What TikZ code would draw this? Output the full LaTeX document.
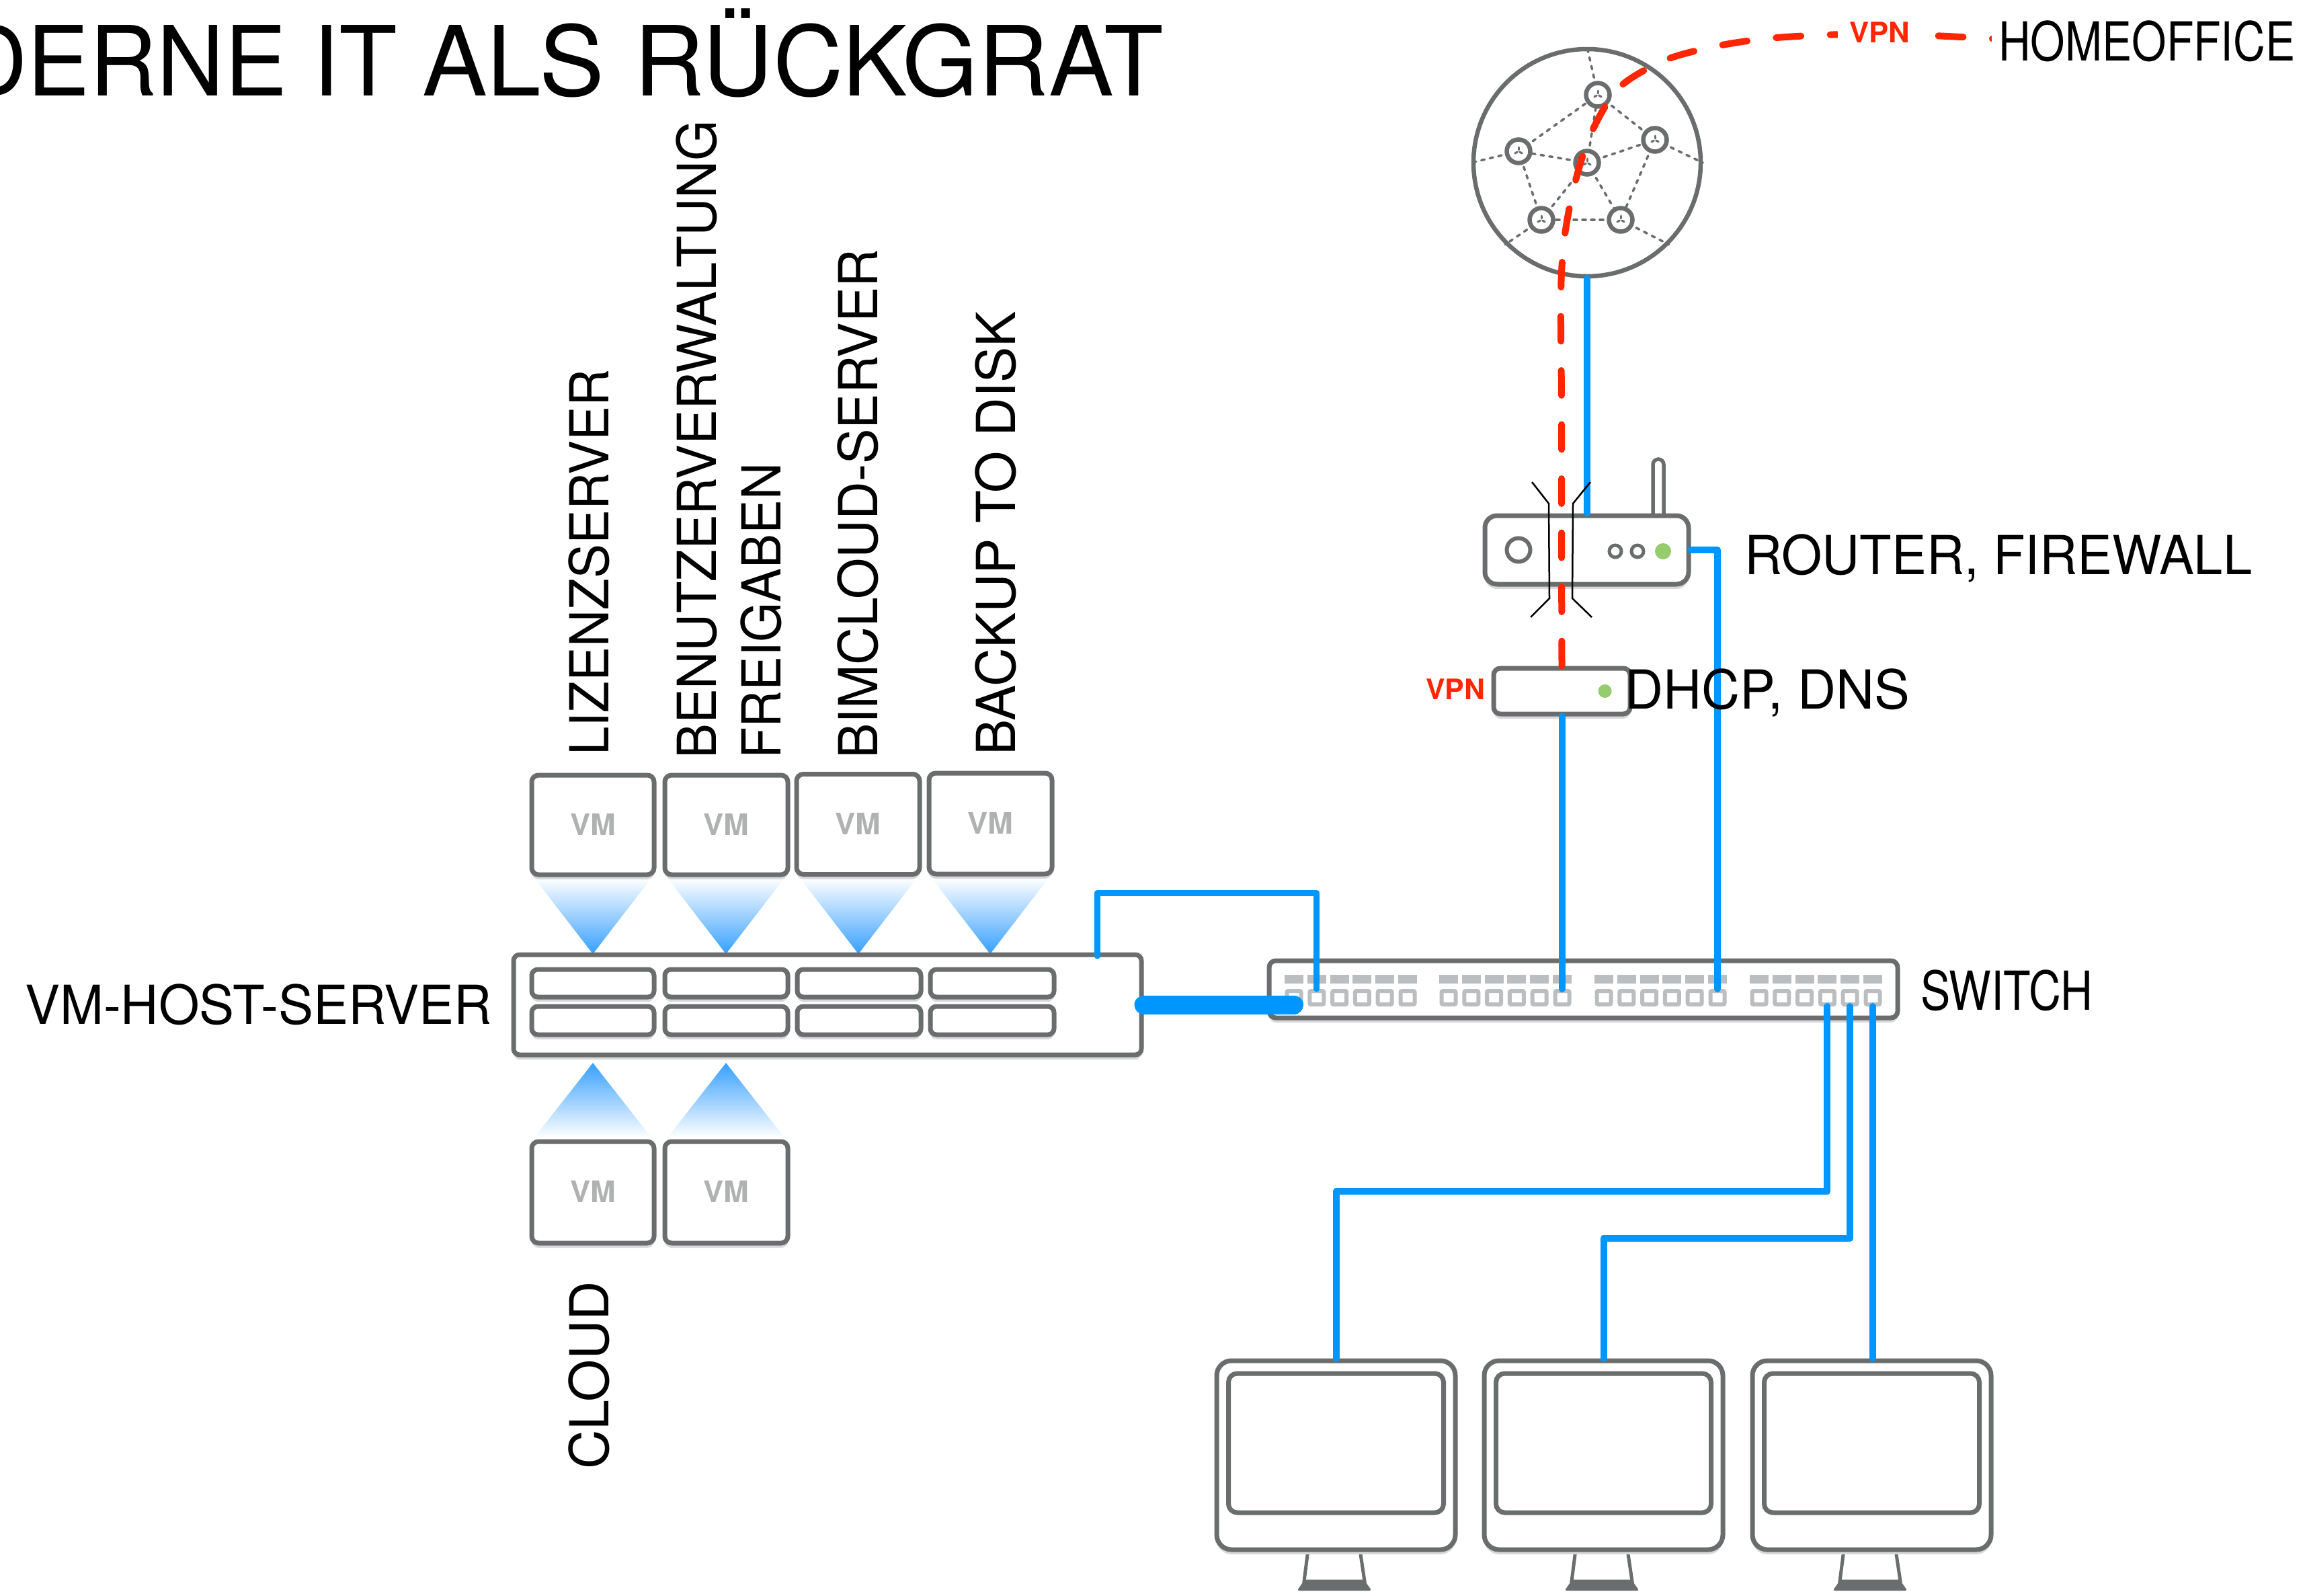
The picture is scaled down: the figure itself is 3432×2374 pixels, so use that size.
\documentclass[tikz,border=0pt]{standalone}
\usepackage{fontspec}
\usepackage{graphicx}
\setmainfont{TeX Gyre Heros}
\usetikzlibrary{shadows,calc}
\definecolor{dev}{HTML}{6A6D6D}
\definecolor{shad}{HTML}{D8D8D8}
\definecolor{wireblue}{HTML}{0096FF}
\definecolor{vpnred}{HTML}{FF2600}
\definecolor{led}{HTML}{96CB6E}
\definecolor{portgray}{HTML}{BBBEC0}
\definecolor{vmtext}{HTML}{B0B2B2}
\definecolor{apex}{HTML}{36A0FF}
\newcommand{\lbl}[3]{\resizebox{#2pt}{\height}{\fontsize{#1pt}{#1pt}\selectfont #3}}
\tikzset{
  devbox/.style={draw=dev,fill=white,line width=7pt,inner sep=0pt,rounded corners=#1,
    drop shadow={shadow xshift=0pt,shadow yshift=-7pt,opacity=1,fill=shad}},
  devbox/.default=10pt,
  plainbox/.style={draw=dev,fill=white,line width=7pt,inner sep=0pt,rounded corners=#1},
  plainbox/.default=10pt,
  wire/.style={draw=wireblue,line width=10pt,line cap=round,line join=round},
  thinwire/.style={draw=wireblue,line width=9pt,line cap=round,line join=round},
  thickwire/.style={draw=wireblue,line width=28pt,line cap=round},
  vpnline/.style={draw=vpnred,line width=10pt,line cap=round,dash pattern=on 37pt off 43.5pt},
  fw/.style={draw=black,line width=2.5pt},
  mesh/.style={draw=dev,line width=3.5pt,line cap=round,dash pattern=on 5pt off 8pt},
  speck/.style={draw=dev,line width=3pt,line cap=round},
  meshnode/.style={circle,draw=dev,fill=white,line width=6.5pt,minimum size=35pt,inner sep=0pt},
  lab/.style={inner sep=0pt,text=black,anchor=base west},
  vmlab/.style={inner sep=0pt,text=vmtext,font=\bfseries},
  redlab/.style={inner sep=0pt,text=vpnred,font=\bfseries},
  portnode/.style={rectangle,draw=portgray,fill=white,line width=6pt,minimum width=21pt,minimum height=20pt,inner sep=0pt,rounded corners=2pt}
}
\begin{document}
\begin{tikzpicture}[x=1pt,y=-1pt]
\useasboundingbox (0,0) rectangle (3432,2374);
\fill[white] (0,0) rectangle (3432,2374);

% title, word by word
\node[lab] (titlea) at (-60,142) {\lbl{144}{487}{DERNE}};
\node[lab] (titleb) at (465,142) {\lbl{144}{126}{IT}};
\node[lab] (titlec) at (628,142) {\lbl{144}{271}{ALS}};
\node[lab] (titled) at (943,142) {\lbl{144}{788}{RÜCKGRAT}};

% gradients above and below the host
\foreach \cx in {882,1080,1277,1473}
  \shade[top color=white,bottom color=apex] (\cx-87,1306) -- (\cx+87,1306) -- (\cx,1419) -- cycle;
\foreach \cx in {882,1080}
  \shade[top color=apex,bottom color=white] (\cx,1581) -- (\cx+87,1692) -- (\cx-87,1692) -- cycle;

% VMs
\node[devbox,minimum width=182pt,minimum height=148pt] (vma) at (882,1227) {};
\node[devbox,minimum width=183pt,minimum height=148pt] (vmb) at (1080.5,1227) {};
\node[devbox,minimum width=183pt,minimum height=149pt] (vmc) at (1276.5,1226) {};
\node[devbox,minimum width=183pt,minimum height=150pt] (vmd) at (1473.5,1225) {};
\node[devbox,minimum width=182pt,minimum height=151pt] (vme) at (882,1773.5) {};
\node[devbox,minimum width=183pt,minimum height=151pt] (vmf) at (1080.5,1773.5) {};
\foreach \n in {vma,vmb,vmc,vmd,vme,vmf}
  \node[vmlab] (\n-t) at ($(\n.center)+(0,-1)$) {\lbl{44}{68}{VM}};

% host
\node[devbox=9pt,minimum width=934pt,minimum height=149pt] (host) at (1231,1494.5) {};
\foreach \sx/\sw [count=\k] in {882/182,1080.5/183,1278/184,1476/184}{
  \node[devbox=9pt,minimum width=\sw pt,minimum height=41pt] (slotu\k) at (\sx,1462.5) {};
  \node[devbox=9pt,minimum width=\sw pt,minimum height=42pt] (slotl\k) at (\sx,1518) {};
}

% switch
\node[devbox=10pt,minimum width=935pt,minimum height=85pt] (switch) at (2355.5,1471.5) {};
\foreach \gs [count=\g] in {1911,2141,2372,2603}
  \foreach \i in {0,...,5}{
    \pgfmathsetmacro{\px}{\gs+14+33.8*\i}
    \fill[portgray] (\px-14,1450) rectangle (\px+14,1463);
    \node[portnode] (sw-\g-\i) at (\px,1484) {};
  }

% cloud
\node[circle,draw=dev,fill=white,line width=6.5pt,minimum size=338pt,inner sep=0pt] (cloud) at (2361,242) {};
\coordinate (ca) at (2377,141);
\coordinate (cb) at (2462,208);
\coordinate (cc) at (2411,327);
\coordinate (cd) at (2293,327);
\coordinate (ce) at (2259,225);
\coordinate (cm) at (2361,242);
\draw[mesh] (ca) -- (cloud.north);
\draw[mesh] (cb) -- (cloud.east);
\draw[mesh] (cc) -- (cloud.-45);
\draw[mesh] (cd) -- (cloud.225);
\draw[mesh] (ce) -- (cloud.west);
\draw[mesh] (ca) -- (cb);
\draw[mesh] (cb) -- (cc);
\draw[mesh] (cc) -- (cd);
\draw[mesh] (cd) -- (ce);
\draw[mesh] (ce) -- (ca);
\foreach \n in {ca,cb,cc,cd,ce} \draw[mesh] (cm) -- (\n);
\foreach \n in {a,b,c,d,e,m}{
  \node[meshnode] (n\n) at (c\n) {};
  \foreach \ang in {90,210,330}
    \draw[speck] ($(c\n)+(\ang:2pt)$) -- ($(c\n)+(\ang:6pt)$);
}

% router
\draw[draw=dev,line width=5.5pt,rounded corners=8pt] (2459,767) -- (2459,683) -- (2475,683) -- (2475,767);
\node[devbox=18pt,minimum width=303pt,minimum height=102pt] (router) at (2360.5,818) {};
\node[circle,draw=dev,fill=white,line width=6pt,minimum size=35pt,inner sep=0pt] (knob) at (2259,818) {};
\node[circle,draw=dev,fill=white,line width=5pt,minimum size=18pt,inner sep=0pt] (leda) at (2403,820) {};
\node[circle,draw=dev,fill=white,line width=5pt,minimum size=18pt,inner sep=0pt] (ledb) at (2436,820) {};
\node[circle,fill=led,minimum size=24pt,inner sep=0pt] (ledc) at (2474,820) {};

% dhcp box
\node[devbox=10pt,minimum width=203pt,minimum height=68pt] (dhcp) at (2323.5,1028) {};
\node[circle,fill=led,minimum size=20pt,inner sep=0pt] (ledd) at (2387.5,1028) {};

% monitors
\foreach \m [count=\k] in {1987.5,2385.5,2784.5}{
  \draw[draw=dev,line width=5pt] (\m-41.5,2305) -- (\m-47.5,2352) -- (\m+42.5,2352) -- (\m+35.5,2305);
  \fill[dev,rounded corners=3pt] (\m-47.5,2351) -- (\m+42.5,2351) -- (\m+53,2366) -- (\m-58,2366) -- cycle;
  \node[devbox=22pt,minimum width=355pt,minimum height=281pt] (mon\k) at (\m,2164.5) {};
  \node[plainbox=13pt,minimum width=320pt,minimum height=207pt] (scr\k) at (\m,2146.5) {};
}

% connectors
\coordinate (hostup) at (1632,1422);
\coordinate (hostbend) at (1632,1328);
\draw[thinwire] (hostup) -- (hostbend) -| (sw-1-1.north);
\draw[thickwire] (host.east) -- (sw-1-0 |- host.east);
\draw[wire] (cloud.south) -- (cloud.south |- router.north);
\draw[wire] (router.east) -| (sw-3-5.north);
\draw[wire] (dhcp.south) -- (dhcp.south |- sw-2-5.north);
\coordinate (benda) at (1987.5,1772);
\coordinate (bendb) at (2385.5,1842);
\draw[wire] (sw-4-3.south) |- (benda) -- (mon1.north);
\draw[wire] (sw-4-4.south) |- (bendb) -- (mon2.north);
\draw[wire] (sw-4-5.south) -- (sw-4-5.south |- mon3.north);

% VPN tunnel
\draw[vpnline] plot[smooth,tension=0.5] coordinates {(dhcp.north) (2323,800) (2323,600) (2322,438) (2327,356) (2342,276) (2367,198) (2409,130) (2478,89) (2557,68) (2632,57) (2714,52) (2800,50) (2876,53) (2956,57) (2985,59)};

% firewall walls
\draw[fw] (2279,717) -- (2304,749) -- (2305,890) -- (2277,918);
\draw[fw] (2366,717) -- (2340,749) -- (2339,890) -- (2368,918);

% labels
\node[redlab,fill=white,inner xsep=17pt,inner ysep=4pt,anchor=base] (vpntop) at (2796,64) {\lbl{42}{90}{VPN}};
\node[fill=white,inner xsep=10pt,inner ysep=6pt,anchor=base west] (home) at (2963,91) {\lbl{80}{441}{HOMEOFFICE}};
\node[redlab,anchor=base west] (vpnleft) at (2121,1040) {\lbl{42}{88}{VPN}};
\node[lab] (lrouter) at (2595,854) {\lbl{80}{755}{ROUTER, FIREWALL}};
\node[lab] (ldhcp) at (2417,1054) {\lbl{80}{424}{DHCP, DNS}};
\node[lab] (lswitch) at (2857,1502) {\lbl{80}{256}{SWITCH}};
\node[lab] (lhost) at (37,1523) {\lbl{80}{694}{VM-HOST-SERVER}};
\node[lab,rotate=90] (l1) at (905.5,1124) {\lbl{80}{574}{LIZENZSERVER}};
\node[lab,rotate=90] (l2) at (1065,1129) {\lbl{80}{950}{BENUTZERVERWALTUNG}};
\node[lab,rotate=90] (l3) at (1161,1129) {\lbl{80}{440}{FREIGABEN}};
\node[lab,rotate=90] (l4) at (1305,1129) {\lbl{80}{758}{BIMCLOUD-SERVER}};
\node[lab,rotate=90] (l5) at (1510,1124) {\lbl{80}{661}{BACKUP TO DISK}};
\node[lab,rotate=90] (l6) at (905,2186) {\lbl{80}{280}{CLOUD}};
\end{tikzpicture}
\end{document}
